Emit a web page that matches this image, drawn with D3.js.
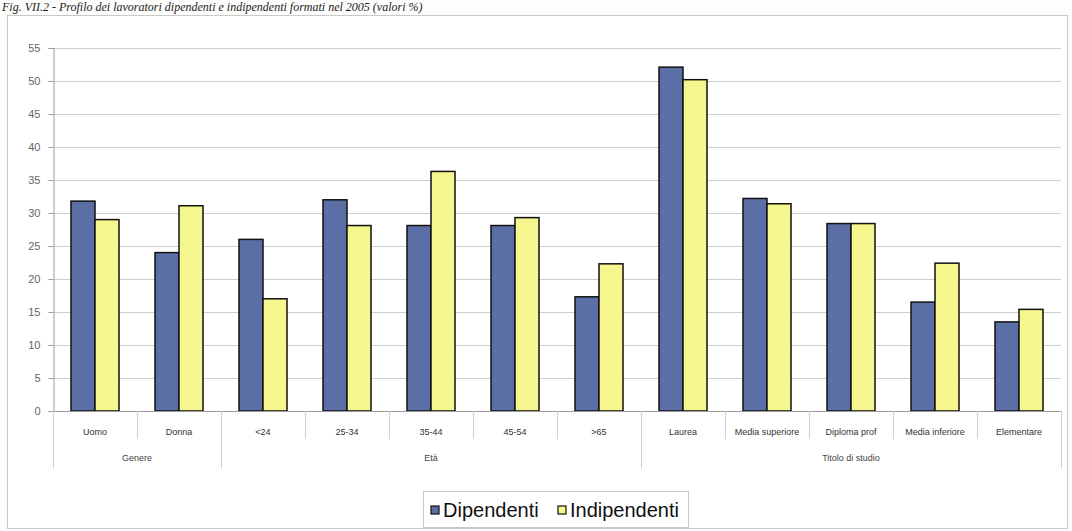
<!DOCTYPE html>
<html lang="it">
<head>
  <meta charset="UTF-8" />
  <title>Profilo dei lavoratori dipendenti e indipendenti</title>
  <style>
    html, body { margin: 0; padding: 0; background: #fdfdfc; }
    svg { display: block; }
    .caption { font-family: "Liberation Serif", serif; font-style: italic; font-size: 12px; fill: #222; }
    .ylab text { font-family: "Liberation Sans", Arial, sans-serif; font-size: 11px; fill: #666; }
    .cat { font-family: "Liberation Sans", Arial, sans-serif; font-size: 9px; fill: #333; }
    .grp { font-family: "Liberation Sans", Arial, sans-serif; font-size: 9px; fill: #444; }
    .legend text { font-family: "Liberation Sans", Arial, sans-serif; font-size: 20px; fill: #111; }
  </style>
</head>
<body>
  <svg id="chart"></svg>

  <script src="https://d3js.org/d3.v7.min.js"></script>
  <script>
    // data (valori %)
    const categories = ["Uomo", "Donna", "<24", "25-34", "35-44", "45-54", ">65",
      "Laurea", "Media superiore", "Diploma prof", "Media inferiore", "Elementare"];
    const groupNames = ["Genere", "Età", "Titolo di studio"];
    const groupSizes = [2, 5, 5];
    const seriesNames = ["Dipendenti", "Indipendenti"];
    const dipendenti = [31.8, 24.0, 26.0, 32.0, 28.1, 28.1, 17.3, 52.1, 32.2, 28.4, 16.5, 13.5];
    const indipendenti = [29.0, 31.1, 17.0, 28.1, 36.3, 29.3, 22.3, 50.2, 31.4, 28.4, 22.4, 15.4];
    const yTicks = [0, 5, 10, 15, 20, 25, 30, 35, 40, 45, 50, 55];

    const W = 1072, H = 531;
    const plot = { left: 53, right: 1061, top: 48, bottom: 411 };
    const colors = ["#5b6fa6", "#f6f68e"];

    const svg = d3.select("#chart").attr("width", W).attr("height", H);

    // caption above the frame
    svg.append("text").attr("class", "caption")
      .attr("x", 2).attr("y", 11)
      .text("Fig. VII.2 - Profilo dei lavoratori dipendenti e indipendenti formati nel 2005 (valori %)");

    // outer chart frame
    svg.append("rect")
      .attr("x", 7.5).attr("y", 15.5).attr("width", 1060).attr("height", 513)
      .attr("fill", "#fff").attr("stroke", "#c8c8c8");

    const x = d3.scaleBand()
      .domain(categories)
      .range([plot.left, plot.right])
      .padding(0);

    const xs = d3.scaleBand()
      .domain(seriesNames)
      .range([0, x.bandwidth()])
      .paddingInner(0)
      .paddingOuter(0.75);

    const y = d3.scaleLinear()
      .domain([0, 55])
      .range([plot.bottom, plot.top]);

    // gridlines
    svg.append("g")
      .selectAll("line")
      .data(yTicks.filter(d => d > 0))
      .join("line")
      .attr("x1", plot.left).attr("x2", plot.right)
      .attr("y1", d => Math.round(y(d)) + 0.5).attr("y2", d => Math.round(y(d)) + 0.5)
      .attr("stroke", "#cfcfcf");

    // y axis
    const yAxis = svg.append("g")
      .attr("class", "ylab")
      .attr("transform", `translate(${plot.left + 0.5},0)`)
      .call(d3.axisLeft(y).tickValues(yTicks).tickSize(5).tickPadding(8));
    yAxis.select(".domain").attr("stroke", "#9a9a9a");
    yAxis.selectAll(".tick line").attr("stroke", "#9a9a9a");

    // bars
    const rows = categories.map((c, i) => ({ cat: c, values: [dipendenti[i], indipendenti[i]] }));
    svg.append("g")
      .selectAll("g")
      .data(rows)
      .join("g")
      .attr("transform", d => `translate(${x(d.cat)},0)`)
      .selectAll("rect")
      .data(d => d.values.map((v, k) => ({ s: seriesNames[k], v, k })))
      .join("rect")
      .attr("x", d => xs(d.s))
      .attr("y", d => y(d.v))
      .attr("width", xs.bandwidth())
      .attr("height", d => y(0) - y(d.v))
      .attr("fill", d => colors[d.k])
      .attr("stroke", "#111")
      .attr("stroke-width", 1.5);

    // x axis baseline
    svg.append("line")
      .attr("x1", plot.left).attr("x2", plot.right)
      .attr("y1", plot.bottom + 0.5).attr("y2", plot.bottom + 0.5)
      .attr("stroke", "#9a9a9a");

    // category separators, longer ones between groups
    const groupEdges = [0];
    groupSizes.forEach(s => groupEdges.push(groupEdges[groupEdges.length - 1] + s));
    const edges = d3.range(categories.length + 1);
    svg.append("g")
      .selectAll("line")
      .data(edges)
      .join("line")
      .attr("x1", i => Math.round(plot.left + i * x.step()) + 0.5)
      .attr("x2", i => Math.round(plot.left + i * x.step()) + 0.5)
      .attr("y1", plot.bottom)
      .attr("y2", i => groupEdges.includes(i) ? plot.bottom + 57 : plot.bottom + 28)
      .attr("stroke", "#d0d0d0");

    svg.append("g")
      .selectAll("text")
      .data(categories)
      .join("text")
      .attr("class", "cat")
      .attr("x", d => x(d) + x.bandwidth() / 2)
      .attr("y", plot.bottom + 24)
      .attr("text-anchor", "middle")
      .text(d => d);

    svg.append("g")
      .selectAll("text")
      .data(groupNames)
      .join("text")
      .attr("class", "grp")
      .attr("x", (d, i) => plot.left + (groupEdges[i] + groupEdges[i + 1]) / 2 * x.step())
      .attr("y", plot.bottom + 50)
      .attr("text-anchor", "middle")
      .text(d => d);

    // legend
    const legend = svg.append("g").attr("class", "legend");
    legend.append("rect")
      .attr("x", 423.5).attr("y", 491.5).attr("width", 265).attr("height", 36)
      .attr("fill", "#fff").attr("stroke", "#c8c8c8");
    const legendX = [431, 558];
    const items = legend.selectAll("g.item")
      .data(seriesNames)
      .join("g")
      .attr("class", "item")
      .attr("transform", (d, i) => `translate(${legendX[i]},0)`);
    items.append("rect")
      .attr("x", 0).attr("y", 506).attr("width", 8).attr("height", 8)
      .attr("fill", (d, i) => colors[i])
      .attr("stroke", "#111").attr("stroke-width", 1.2);
    items.append("text")
      .attr("x", 12).attr("y", 517)
      .text(d => d);
  </script>
</body>
</html>
